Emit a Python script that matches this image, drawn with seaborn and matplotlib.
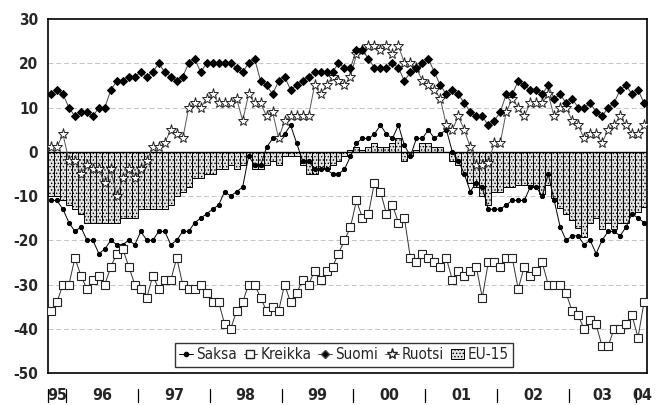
import matplotlib
matplotlib.use('Agg')
import matplotlib.pyplot as plt
import seaborn as sns
import pandas as pd
from matplotlib import font_manager
from matplotlib.lines import Line2D
from matplotlib.patches import Patch

# kuukaudet 10/1995 - 1/2004
kuukausi = list(range(100))

saksa = [-11, -11, -13, -16, -18, -17, -20, -20, -23, -22, -20, -21, -21, -20, -21, -18, -20, -20, -18, -18,
         -21, -20, -18, -18, -16, -15, -14, -13, -12, -9, -10, -9, -8, -1, -3, -3, 1, 3, 3, 4,
         6, 2, -2, -2, -4, -4, -4, -5, -5, -4, -1, 2, 3, 3, 4, 6, 4, 3, 6, 1.5,
         -1, 3, 3, 5, 3, 4, 5, 0, -2, -5, -9, -7, -8, -13, -13, -13, -12, -11, -11, -11,
         -8, -8, -10, -5, -11, -17, -20, -19, -19, -21, -20, -23, -20, -18, -18, -19, -17, -14, -15, -16]
kreikka = [-36, -34, -30, -30, -24, -28, -31, -29, -28, -30, -26, -23, -22, -26, -30, -31, -33, -28, -31, -29,
           -29, -24, -30, -31, -31, -30, -32, -34, -34, -39, -40, -36, -34, -30, -30, -33, -36, -35, -36, -30,
           -34, -32, -29, -30, -27, -29, -27, -26, -23, -20, -17, -11, -15, -14, -7, -9, -14, -12, -16, -15,
           -24, -25, -23, -24, -25, -26, -24, -29, -27, -28, -27, -26, -33, -25, -25, -26, -24, -24, -31, -26,
           -28, -27, -25, -30, -30, -30, -32, -36, -37, -40, -38, -39, -44, -44, -40, -40, -39, -37, -42, -34]
suomi = [13, 14, 13, 10, 8, 9, 9, 8, 10, 10, 14, 16, 16, 17, 17, 18, 17, 18, 20, 18,
         17, 16, 17, 20, 21, 18, 20, 20, 20, 20, 20, 19, 18, 20, 21, 16, 15, 13, 16, 17,
         14, 15, 16, 17, 18, 18, 18, 18, 20, 19, 19, 23, 23, 21, 19, 19, 19, 20, 19, 16,
         18, 19, 20, 21, 18, 15, 13, 14, 13, 11, 9, 8, 8, 6, 7, 9, 13, 13, 16, 15,
         14, 14, 13, 15, 12, 13, 11, 12, 10, 10, 11, 9, 8, 10, 11, 14, 15, 13, 14, 11]
ruotsi = [1, 1, 4, -2, -2, -5, -3, -4, -4, -7, -4, -10, -6, -4, -6, -4, -2, 1, 1, 2,
          5, 4, 3, 10, 11, 10, 12, 13, 11, 11, 11, 12, 7, 13, 11, 11, 8, 9, 3, 7,
          8, 8, 8, 8, 15, 13, 15, 17, 16, 15, 17, 22, 23, 24, 24, 23, 24, 22, 24, 20,
          20, 19, 16, 15, 14, 12, 6, 5, 8, 5, 1, -3, -3, -2.5, 2, 2, 9, 12, 10, 8,
          11, 11, 11, 13, 8, 10, 10, 7, 6, 3, 4, 4, 2, 5, 6, 8, 6, 4, 4, 6]
eu15 = [-10, -10, -11, -12, -13, -14, -16, -16, -16, -16, -16, -16,
        -15, -15, -15, -13, -13, -13, -13, -13, -12, -10, -9, -8,
        -6, -6, -5, -5, -4, -4, -3, -4, -3, -1, -4, -4,
        -3, -2, -3, -1, -1, -1, -3, -5, -5, -4, -4, -3,
        -2, -1, 0.5, 1, 0.5, 1, 2, 1, 1, 2, 3, -2,
        -1, 0.5, 2, 2, 1, 1, 0, -2, -3, -5, -7, -8,
        -10, -12, -9, -9, -8, -8, -7.5, -7.5, -7.5, -8, -9.5, -7.5,
        -10.5, -12.7, -14, -15.5, -17.3, -19.2, -16, -15, -17.5, -16, -17.5, -16, -16, -14, -13.5, -12.5]

vuodet = ['95', '96', '97', '98', '99', '00', '01', '02', '03', '04']
vuosirajat = [-0.5, 2.5, 14.5, 26.5, 38.5, 50.5, 62.5, 74.5, 86.5, 97.7]

sns.set_style('white')

# kapea kirjasin jos sellainen löytyy
nimet = {f.name for f in font_manager.fontManager.ttflist}
dv_kapea = any(f.name == 'DejaVu Sans' and f.stretch == 'condensed'
               for f in font_manager.fontManager.ttflist)
if 'Liberation Sans Narrow' in nimet:
    plt.rcParams['font.family'] = ['Liberation Sans Narrow', 'DejaVu Sans']
    koko = 12.5
elif dv_kapea:
    plt.rcParams['font.family'] = ['DejaVu Sans']
    plt.rcParams['font.stretch'] = 'condensed'
    koko = 11
else:
    plt.rcParams['font.family'] = ['Liberation Sans', 'DejaVu Sans']
    koko = 10.5

plt.rcParams['hatch.color'] = '#8c8c8c'
plt.rcParams['hatch.linewidth'] = 0.6

df = pd.DataFrame({'kk': kuukausi, 'Saksa': saksa, 'Kreikka': kreikka,
                   'Suomi': suomi, 'Ruotsi': ruotsi, 'EU-15': eu15})

fig = plt.figure(figsize=(6.66, 4.05), dpi=100)
ax = fig.add_axes([0.072, 0.079, 0.8995, 0.874])

# EU-15 pylväät
sns.barplot(data=df, x='kk', y='EU-15', native_scale=True, width=1.0, color='#e2e2e2',
            edgecolor='black', linewidth=0.7, hatch='.....', ax=ax, zorder=2)

lw = 0.7
sns.lineplot(data=df, x='kk', y='Saksa', color='black', lw=lw, marker='o', ms=3,
             mec='black', ax=ax, zorder=4)
sns.lineplot(data=df, x='kk', y='Kreikka', color='#333333', lw=lw, marker='s', ms=5.5,
             mfc='white', mec='#222222', mew=0.8, ax=ax, zorder=4)
sns.lineplot(data=df, x='kk', y='Suomi', color='#444444', lw=lw, marker='D', ms=4.2,
             mfc='black', mec='black', ax=ax, zorder=5)
sns.lineplot(data=df, x='kk', y='Ruotsi', color='#555555', lw=lw, marker='*', ms=8,
             mfc='white', mec='#222222', mew=0.7, ax=ax, zorder=4)

ax.set_xlim(-0.5, 99.5)
ax.set_ylim(-50, 30)
ax.set_yticks(range(-50, 31, 10))
ax.set_yticklabels([str(v) for v in range(-50, 31, 10)], fontsize=koko, fontweight='bold')
ax.tick_params(axis='y', length=5, width=1, color='black', pad=2, direction='out')
ax.set_xticks([])
ax.set_xlabel('')
ax.set_ylabel('')

for v in [20, 10, -10, -20, -30, -40]:
    ax.axhline(v, color='#c4c4c4', lw=0.7, ls=(0, (5, 3)), zorder=1)
ax.axhline(0, color='black', lw=1.0, zorder=3)

for s in ax.spines.values():
    s.set_color('black')
    s.set_linewidth(1.2)

# vuosiotsikot ja erottimet
trans = ax.get_xaxis_transform()
for x in vuosirajat:
    ax.plot([x, x], [-0.045, -0.083], transform=trans, color='black', lw=0.9, clip_on=False)
keskikohdat = [(vuosirajat[i] + vuosirajat[i + 1]) / 2 for i in range(len(vuosirajat) - 1)]
keskikohdat.append(vuosirajat[-1] + 1.1)
for x, t in zip(keskikohdat, vuodet):
    ax.text(x, -0.064, t, transform=trans, ha='center', va='center', fontsize=koko + 0.5,
            fontweight='bold')

kahvat = [
    Line2D([], [], color='black', lw=lw, marker='o', ms=3),
    Line2D([], [], color='#333333', lw=lw, marker='s', ms=5.5, mfc='white', mec='#222222'),
    Line2D([], [], color='#444444', lw=lw, marker='D', ms=4.2, mfc='black'),
    Line2D([], [], color='#555555', lw=lw, marker='*', ms=8, mfc='white', mec='#222222'),
    Patch(facecolor='#e2e2e2', edgecolor='black', hatch='.....', lw=0.7),
]
leg = ax.legend(kahvat, ['Saksa', 'Kreikka', 'Suomi', 'Ruotsi', 'EU-15'], ncol=5,
                loc='lower center', bbox_to_anchor=(0.494, 0.017), fontsize=koko,
                frameon=True, fancybox=False, edgecolor='black', handlelength=0.9,
                handletextpad=0.2, columnspacing=0.45, borderpad=0.3, borderaxespad=0)
leg.get_frame().set_linewidth(1.0)

fig.savefig('out.png', dpi=100, facecolor='white')
